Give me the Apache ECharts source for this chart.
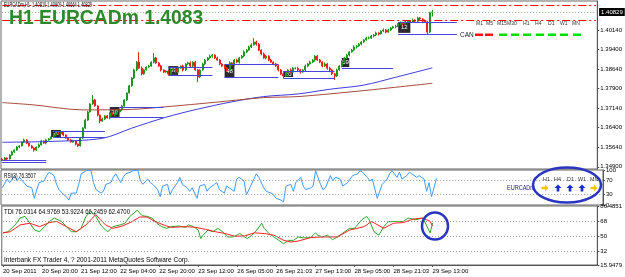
<!DOCTYPE html>
<html>
<head>
<meta charset="utf-8">
<script src="https://cdn.jsdelivr.net/npm/echarts@6/dist/echarts.min.js"></script>
<style>
  html, body { margin: 0; padding: 0; background: #fff; }
  #chart { width: 625px; height: 277px; }
</style>
</head>
<body>
<div id="chart"></div>
<script>
// EURCADm H1, 20 Sep - 29 Sep 2011
const timeLabels = ['20 Sep 2011', '20 Sep 20:00', '21 Sep 12:00', '22 Sep 04:00', '22 Sep 20:00', '23 Sep 12:00',
  '26 Sep 05:00', '26 Sep 21:03', '27 Sep 13:00', '28 Sep 05:00', '28 Sep 21:03', '29 Sep 13:00']

const firstOpen = 1.3520
const closes = [
  1.3516, 1.3524, 1.3520, 1.3535, 1.3547, 1.3554, 1.3566, 1.3570, 1.3585, 1.3593,
  1.3581, 1.3570, 1.3562, 1.3554, 1.3566, 1.3574, 1.3589, 1.3581, 1.3593, 1.3597,
  1.3604, 1.3612, 1.3619, 1.3616, 1.3623, 1.3612, 1.3600, 1.3593, 1.3585, 1.3589,
  1.3577, 1.3570, 1.3600, 1.3639, 1.3669, 1.3700, 1.3731, 1.3746, 1.3723, 1.3688,
  1.3665, 1.3673, 1.3685, 1.3677, 1.3696, 1.3688, 1.3692, 1.3700, 1.3708, 1.3723,
  1.3746, 1.3773, 1.3800, 1.3830, 1.3861, 1.3891, 1.3868, 1.3846, 1.3861, 1.3872,
  1.3876, 1.3891, 1.3907, 1.3888, 1.3876, 1.3861, 1.3853, 1.3857, 1.3846, 1.3861,
  1.3865, 1.3853, 1.3868, 1.3876, 1.3861, 1.3884, 1.3888, 1.3876, 1.3891, 1.3861,
  1.3834, 1.3861, 1.3884, 1.3899, 1.3907, 1.3914, 1.3918, 1.3907, 1.3899, 1.3884,
  1.3876, 1.3868, 1.3861, 1.3888, 1.3880, 1.3899, 1.3891, 1.3907, 1.3914, 1.3930,
  1.3937, 1.3949, 1.3957, 1.3968, 1.3960, 1.3937, 1.3922, 1.3907, 1.3914, 1.3899,
  1.3891, 1.3884, 1.3876, 1.3861, 1.3846, 1.3838, 1.3853, 1.3861, 1.3853, 1.3868,
  1.3868, 1.3861, 1.3853, 1.3861, 1.3876, 1.3884, 1.3891, 1.3899, 1.3914, 1.3899,
  1.3891, 1.3876, 1.3884, 1.3868, 1.3861, 1.3846, 1.3838, 1.3861, 1.3876, 1.3891,
  1.3907, 1.3918, 1.3930, 1.3937, 1.3949, 1.3953, 1.3960, 1.3968, 1.3976, 1.3983,
  1.3983, 1.3991, 1.3995, 1.4003, 1.3999, 1.4010, 1.4014, 1.4006, 1.4014, 1.4022,
  1.4026, 1.4029, 1.4037, 1.4041, 1.4037, 1.4045, 1.4048, 1.4045, 1.4052, 1.4048,
  1.4060, 1.4056, 1.4048, 1.4045, 1.4006, 1.4081, 1.40829
]
// wick lengths beyond the body, in pips
const wickUp = [
  3, 4, 2, 3, 5, 2, 4, 3, 2, 5,
  3, 2, 4, 3, 2, 5, 3, 2, 4, 3,
  2, 4, 3, 2, 5, 3, 2, 3, 4, 2,
  3, 2, 4, 3, 5, 4, 3, 19, 4, 3,
  2, 5, 3, 4, 2, 3, 4, 2, 3, 4,
  3, 2, 4, 3, 5, 4, 38, 6, 4, 3,
  5, 3, 19, 4, 3, 5, 2, 4, 3, 5,
  3, 6, 4, 2, 5, 3, 4, 6, 3, 5,
  4, 3, 5, 4, 3, 6, 4, 3, 5, 4,
  3, 5, 4, 6, 3, 4, 5, 3, 4, 6,
  4, 5, 6, 15, 5, 4, 3, 6, 4, 3,
  5, 3, 4, 6, 3, 5, 4, 3, 6, 4,
  3, 5, 4, 3, 6, 4, 5, 3, 4, 5,
  4, 3, 6, 4, 5, 3, 4, 5, 3, 6,
  4, 5, 3, 4, 6, 3, 5, 4, 3, 5,
  6, 4, 3, 5, 4, 3, 6, 4, 5, 3,
  4, 5, 3, 6, 4, 5, 3, 4, 6, 3,
  5, 4, 3, 6, 4, 3, 8
]
const wickDn = [
  4, 3, 5, 2, 3, 4, 3, 5, 2, 3,
  4, 3, 2, 6, 3, 4, 2, 3, 5, 3,
  3, 2, 4, 3, 2, 5, 3, 4, 2, 3,
  5, 4, 2, 3, 4, 3, 2, 4, 3, 5,
  8, 3, 4, 2, 5, 3, 4, 3, 2, 4,
  3, 4, 2, 3, 4, 5, 3, 6, 4, 3,
  4, 3, 5, 4, 3, 6, 4, 3, 5, 4,
  3, 5, 4, 3, 6, 4, 3, 5, 4, 3,
  19, 4, 3, 5, 4, 3, 6, 4, 3, 5,
  4, 3, 6, 4, 5, 3, 4, 6, 3, 4,
  5, 3, 4, 3, 6, 4, 5, 3, 6, 4,
  3, 5, 4, 6, 4, 8, 3, 5, 4, 3,
  5, 4, 6, 3, 4, 5, 3, 4, 6, 3,
  4, 5, 3, 6, 4, 5, 15, 4, 3, 5,
  3, 4, 5, 3, 4, 6, 3, 5, 4, 3,
  4, 3, 5, 4, 6, 3, 4, 5, 3, 4,
  3, 5, 4, 3, 5, 4, 6, 3, 4, 5,
  4, 3, 5, 4, 11, 4, 15
]

// moving averages: [bar index, price]
const maBlue = [[0, 1.3584], [19, 1.3587], [41, 1.3599], [53, 1.3638], [67, 1.3680], [80, 1.3711], [94, 1.3739],
  [107, 1.3759], [121, 1.3769], [134, 1.3787], [148, 1.3803], [161, 1.3833], [176, 1.3869]]
const maBrown = [[0, 1.3736], [13, 1.3727], [33, 1.3708], [53, 1.3710], [67, 1.3720], [87, 1.3737],
  [107, 1.3755], [121, 1.3759], [148, 1.3782], [176, 1.3810]]

// dash-dot price lines and level boxes / lines
const stopLines = [1.41098, 1.40523]
const levelBoxes = [ // [from, to, top, bottom, label]
  [20, 24, 1.3631, 1.3604, '20'],
  [44, 48, 1.3719, 1.3681, '30'],
  [68, 72, 1.3876, 1.3842, '39'],
  [91, 95, 1.3884, 1.3830, '48'],
  [115, 119, 1.3857, 1.3834, '20'],
  [139, 142, 1.3907, 1.3872, '59'],
  [162, 167, 1.4045, 1.4003, '12']
]
const levelLines = [ // [from, to, price]
  [0, 18, 1.3516], [0, 18, 1.3508],
  [21, 42, 1.3627], [21, 42, 1.3604],
  [48, 66, 1.3719], [44, 66, 1.3681],
  [68, 86, 1.3872], [68, 86, 1.3842],
  [91, 113, 1.3884], [91, 113, 1.3834],
  [115, 136, 1.3857], [115, 136, 1.3830],
  [139, 160, 1.3868],
  [162, 186, 1.4045], [162, 186, 1.3999]
]
const priceTicks = [1.349, 1.3564, 1.364, 1.3714, 1.379, 1.3864, 1.394, 1.4014]

// RSI(3): [bar index, value]
const rsi = [[0, 49], [2, 74], [3, 64], [5, 84], [6, 69], [7, 79], [10, 54], [12, 49], [13, 19], [14, 44], [15, 64],
  [17, 69], [18, 84], [19, 94], [21, 84], [22, 59], [23, 44], [25, 29], [26, 24], [27, 14], [28, 34], [30, 34],
  [31, 59], [32, 89], [34, 98], [35, 99], [36, 98], [37, 64], [38, 44], [40, 34], [41, 39], [42, 59], [44, 64],
  [45, 79], [46, 89], [48, 64], [49, 79], [50, 89], [52, 94], [53, 98], [55, 99], [56, 69], [57, 59], [59, 74],
  [60, 64], [61, 59], [63, 44], [64, 24], [65, 54], [67, 59], [68, 29], [69, 44], [71, 64], [72, 79], [73, 59],
  [75, 49], [76, 39], [77, 49], [79, 19], [80, 54], [82, 59], [83, 39], [84, 49], [86, 59], [87, 64], [88, 44],
  [90, 34], [91, 54], [92, 49], [94, 39], [95, 74], [96, 79], [98, 69], [99, 29], [100, 44], [102, 74], [103, 89],
  [104, 79], [106, 49], [107, 39], [109, 34], [110, 29], [111, 19], [113, 14], [114, 9], [115, 54], [117, 59],
  [118, 39], [119, 64], [121, 79], [122, 54], [123, 44], [125, 49], [126, 54], [127, 98], [129, 59], [130, 44],
  [131, 49], [133, 84], [134, 69], [135, 79], [137, 74], [138, 54], [140, 64], [141, 74], [142, 84], [144, 89],
  [145, 98], [146, 94], [148, 79], [149, 69], [150, 74], [152, 19], [154, 59], [156, 74], [157, 89], [158, 98],
  [160, 79], [161, 94], [162, 74], [164, 84], [165, 94], [166, 89], [168, 79], [169, 84], [171, 74], [172, 39],
  [173, 64], [174, 24], [175, 49], [176, 76.35]]
const rsiLevels = [70, 30]
const rsiTicks = [0, 30, 70, 100]

// TDI price line (green) and signal line (red)
const tdiGreen = [[0, 54.4], [2, 55.7], [5, 63.9], [7, 72.1], [9, 74.1], [11, 65.9], [13, 57.7], [15, 55.7], [17, 61.8],
  [19, 68], [21, 72.1], [24, 68], [26, 61.8], [28, 55.7], [30, 55.7], [32, 59.8], [34, 74.1], [36, 80.3], [38, 74.1],
  [40, 63.9], [42, 57.7], [43, 55.7], [45, 61.8], [48, 63.9], [50, 65.9], [52, 74.1], [55, 81.5], [56, 78.2],
  [57, 74.9], [59, 74.1], [61, 72.1], [63, 65.9], [65, 61.8], [67, 59.8], [69, 61.8], [72, 62.6], [75, 61],
  [76, 63.9], [78, 61.8], [80, 57.7], [81, 47.5], [82, 51.6], [84, 57.7], [86, 55.7], [88, 59.8], [90, 55.7],
  [92, 49.5], [94, 49.5], [95, 50.3], [97, 53.6], [98, 51.6], [100, 47.5], [102, 51.6], [104, 57.7], [106, 65.9],
  [107, 59.8], [109, 53.6], [111, 49.5], [113, 45.4], [115, 41.3], [116, 43.4], [117, 45.4], [119, 45.4],
  [121, 49.5], [123, 48.3], [126, 48.7], [128, 54.4], [129, 51.6], [131, 49.5], [133, 51.6], [135, 46.2],
  [137, 49.5], [139, 53.6], [142, 59.8], [144, 59.8], [147, 70], [149, 74.1], [150, 70], [152, 55.7], [154, 51.6],
  [156, 61.8], [158, 68], [160, 68], [162, 68], [164, 68], [166, 72.1], [169, 70], [172, 72.1], [175, 54.4],
  [176, 66.2]]
const tdiRed = [[0, 54.4], [3, 55.7], [7, 63.9], [11, 65.9], [15, 61.8], [19, 66.7], [22, 68], [26, 61.8], [30, 55.7],
  [34, 63.9], [38, 76.2], [40, 70], [42, 63.9], [45, 59.8], [49, 62.6], [53, 68], [56, 73.3], [59, 73.3], [61, 70],
  [64, 65.9], [67, 62.6], [69, 61], [75, 61.8], [79, 61], [83, 58.5], [87, 55.7], [91, 53.6], [95, 50.3], [99, 50.7],
  [103, 54.4], [107, 53.6], [111, 51.6], [115, 45.4], [118, 43.4], [121, 44.6], [126, 48.7], [131, 49.5],
  [137, 49.5], [142, 57.7], [148, 61.8], [151, 68], [156, 59.8], [160, 65.9], [164, 66.7], [168, 70.8],
  [172, 72.1], [175, 68], [176, 62.5]]
const tdiLevels = [68, 50, 32]
const tdiTicks = [15.9479, 32, 50, 68, 86.4851]

const PIP = 0.0001
const SLOTS = 244
const FONT = "'Liberation Sans', Arial, sans-serif"

const cats = Array.from({ length: SLOTS }, (_, i) => (i % 16 === 0 && timeLabels[i / 16]) || '')
const candles = closes.map((c, i) => {
  const o = i === 0 ? firstOpen : closes[i - 1]
  return [o, c, Math.min(o, c) - wickDn[i] * PIP, Math.max(o, c) + wickUp[i] * PIP]
})
const lastClose = closes[closes.length - 1]
const showLabel = (i, v) => v !== ''

const dotted = { type: [1, 2], color: '#9a9a9a', width: 1 }
// full-width horizontal line between the first and last slot
const fullLine = (v, style, label) => [
  { coord: [0, v], lineStyle: style, label: label || { show: false } },
  { coord: [SLOTS - 1, v] }
]
const levelMark = (vals) => ({
  silent: true, symbol: ['none', 'none'], label: { show: false },
  lineStyle: dotted, data: vals.map(v => fullLine(v, dotted))
})

const txt = (x, y, text, size, color, extra, weight) => Object.assign({
  type: 'text', x, y, silent: true, z: 50,
  style: { text, fontSize: size, fontFamily: FONT, fontWeight: weight || 'normal', fill: color, verticalAlign: 'middle' }
}, extra || {})
const rightArrow = (cx, cy, color) => ({
  type: 'polygon', silent: true, z: 50,
  shape: { points: [[cx - 3.5, cy - 1.3], [cx, cy - 1.3], [cx, cy - 3.5], [cx + 3.5, cy], [cx, cy + 3.5], [cx, cy + 1.3], [cx - 3.5, cy + 1.3]] },
  style: { fill: color }
})
const upArrow = (cx, cy, color) => ({
  type: 'polygon', silent: true, z: 50,
  shape: { points: [[cx - 1.3, cy + 3.5], [cx - 1.3, cy], [cx - 3.5, cy], [cx, cy - 3.5], [cx + 3.5, cy], [cx + 1.3, cy], [cx + 1.3, cy + 3.5]] },
  style: { fill: color }
})

const tfNames = ['M1', 'M5', 'M15', 'M30', 'H1', 'H4', 'D1', 'W1', 'MN']
const tfX = [476, 486, 497, 507, 523, 535, 548, 560, 572]
const canX = [475, 485, 499, 511, 523, 536, 548, 560, 573]

const graphics = [
  txt(4, 5, 'EURCADm,H1  1.40810 1.40909 1.40664 1.40829', 7, '#000', { scaleX: 0.56 }),
  txt(9, 18, 'H1 EURCADm 1.4083', 21, '#2b8b2b', { scaleX: 0.92 }, 'bold'),
  txt(460, 35, 'CAN', 6.5, '#222'),
  txt(4, 176, 'RSI(3) 76.3507', 6.5, '#000', { scaleX: 0.72 }),
  txt(4, 212, 'TDI 76.0314 64.9769 53.9224 66.2459 62.4700', 6.5, '#000', { scaleX: 0.92 }),
  txt(4, 260, 'Interbank FX Trader 4, ? 2001-2011 MetaQuotes Software Corp.', 6.5, '#000'),
  txt(507, 188, 'EURCADm', 6.5, '#202080', { scaleX: 0.85 }),
  { type: 'ellipse', silent: true, z: 50, shape: { cx: 567, cy: 185, rx: 34, ry: 17.5 }, style: { fill: 'none', stroke: '#2a36c0', lineWidth: 2.5 } },
  { type: 'ellipse', silent: true, z: 50, shape: { cx: 435, cy: 226, rx: 13, ry: 13.5 }, style: { fill: 'none', stroke: '#2a36c0', lineWidth: 2.5 } },
  rightArrow(545, 188, '#f5c400'),
  upArrow(558, 188, '#1a2ad0'),
  upArrow(570, 188, '#1a2ad0'),
  upArrow(582, 188, '#1a2ad0'),
  rightArrow(594, 188, '#f5c400')
]
tfNames.forEach((n, i) => graphics.push(txt(tfX[i], 23, n, 6, '#333', { scaleX: 0.85 })))
canX.forEach((x, i) => graphics.push({
  type: 'rect', silent: true, z: 50, shape: { x, y: 33.5, width: 8, height: 2.5 },
  style: { fill: i < 2 ? '#ff1010' : '#00e000' }
}))
;[['H1', 543], ['H4', 554], ['D1', 567], ['W1', 578], ['MN', 590]].forEach(([n, x]) =>
  graphics.push(txt(x, 179, n, 6, '#333', { scaleX: 0.9 })))

const gridBase = { show: true, left: 1, right: 22, borderColor: '#666', borderWidth: 1, backgroundColor: '#fff' }
const hiddenX = (g) => ({
  type: 'category', gridIndex: g, data: cats, boundaryGap: true,
  axisLine: { show: false }, axisTick: { show: false }, axisLabel: { show: false }, splitLine: { show: false }
})
const rightY = (g, min, max, ticks, fmt) => ({
  type: 'value', gridIndex: g, position: 'right', min, max,
  splitLine: { show: false },
  axisLine: { show: true, lineStyle: { color: '#555' } },
  axisTick: { show: true, length: 2, customValues: ticks, lineStyle: { color: '#555' } },
  axisLabel: { customValues: ticks, formatter: fmt, fontSize: 6, fontFamily: FONT, color: '#000', margin: 3 }
})

const redDash = { color: '#ff0000', type: [8, 3, 2, 3], width: 1 }
const bidStyle = { color: '#8aa88a', type: [1, 2], width: 1 }
const bidLabel = {
  show: true, position: 'end', distance: 3, formatter: lastClose.toFixed(5),
  backgroundColor: '#000', color: '#fff', padding: [1, 2], fontSize: 6, fontFamily: FONT
}

const chart = echarts.init(document.getElementById('chart'))
chart.setOption({
  animation: false,
  backgroundColor: '#fff',
  grid: [
    Object.assign({ top: 1, height: 168 }, gridBase),
    Object.assign({ top: 170, height: 35 }, gridBase),
    Object.assign({ top: 206, height: 59 }, gridBase)
  ],
  xAxis: [
    hiddenX(0),
    hiddenX(1),
    {
      type: 'category', gridIndex: 2, data: cats, boundaryGap: true,
      axisLine: { show: true, lineStyle: { color: '#555' } },
      axisTick: { show: true, length: 2, interval: showLabel, alignWithLabel: true, lineStyle: { color: '#555' } },
      axisLabel: { interval: showLabel, fontSize: 6, fontFamily: FONT, color: '#000', align: 'left', margin: 3 },
      splitLine: { show: false }
    }
  ],
  yAxis: [
    rightY(0, 1.34816, 1.41251, priceTicks, v => v.toFixed(5)),
    rightY(1, 0, 100, rsiTicks, v => String(v)),
    rightY(2, 15.9479, 86.4851, tdiTicks, v => (v % 1 ? v.toFixed(4) : String(v)))
  ],
  graphic: graphics,
  series: [
    {
      name: 'EURCADm', type: 'candlestick', xAxisIndex: 0, yAxisIndex: 0,
      data: candles, barWidth: 1.5,
      itemStyle: { color: '#1e961e', color0: '#f41c1c', borderColor: '#1e961e', borderColor0: '#f41c1c', borderWidth: 1 }
    },
    {
      name: 'MA fast', type: 'line', xAxisIndex: 0, yAxisIndex: 0, data: maBlue,
      showSymbol: false, smooth: 0.3, lineStyle: { color: '#3c3cdc', width: 1 }, z: 3
    },
    {
      name: 'MA slow', type: 'line', xAxisIndex: 0, yAxisIndex: 0, data: maBrown,
      showSymbol: false, smooth: 0.3, lineStyle: { color: '#a84a3e', width: 1 }, z: 3
    },
    {
      name: 'levels', type: 'line', xAxisIndex: 0, yAxisIndex: 0, data: [], z: 4,
      markLine: {
        silent: true, symbol: ['none', 'none'], label: { show: false },
        lineStyle: { color: '#4646dc', type: 'solid', width: 1 },
        data: levelLines.map(([a, b, p]) => [{ coord: [a, p] }, { coord: [b, p] }])
          .concat(stopLines.map(v => fullLine(v, redDash)))
          .concat([fullLine(lastClose, bidStyle, bidLabel)])
      },
      markArea: {
        silent: true,
        itemStyle: { color: '#2b2b2b' },
        label: { show: true, position: 'inside', color: '#fff', fontSize: 6, fontFamily: FONT },
        data: levelBoxes.map(([a, b, top, bot, name]) => [{ coord: [a, top], name }, { coord: [b, bot] }])
      }
    },
    {
      name: 'RSI(3)', type: 'line', xAxisIndex: 1, yAxisIndex: 1, data: rsi,
      showSymbol: false, lineStyle: { color: '#3d9bff', width: 1 },
      markLine: levelMark(rsiLevels)
    },
    {
      name: 'TDI price', type: 'line', xAxisIndex: 2, yAxisIndex: 2, data: tdiGreen,
      showSymbol: false, lineStyle: { color: '#28a828', width: 1 },
      markLine: levelMark(tdiLevels)
    },
    {
      name: 'TDI signal', type: 'line', xAxisIndex: 2, yAxisIndex: 2, data: tdiRed,
      showSymbol: false, lineStyle: { color: '#ff2020', width: 1 }
    }
  ]
})
</script>
</body>
</html>
